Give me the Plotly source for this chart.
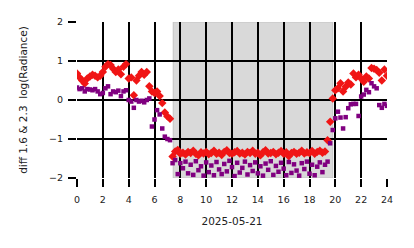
import plotly.graph_objects as go

hours = [0.0, 0.2, 0.4, 0.6, 0.8, 1.0, 1.2, 1.4, 1.6, 1.8,
         2.0, 2.2, 2.4, 2.6, 2.8, 3.0, 3.2, 3.4, 3.6, 3.8,
         4.0, 4.2, 4.4, 4.6, 4.8, 5.0, 5.2, 5.4, 5.6, 5.8,
         6.0, 6.2, 6.4, 6.6, 6.8, 7.0, 7.2, 7.4, 7.6, 7.8,
         8.0, 8.2, 8.4, 8.6, 8.8, 9.0, 9.2, 9.4, 9.6, 9.8,
         10.0, 10.2, 10.4, 10.6, 10.8, 11.0, 11.2, 11.4, 11.6, 11.8,
         12.0, 12.2, 12.4, 12.6, 12.8, 13.0, 13.2, 13.4, 13.6, 13.8,
         14.0, 14.2, 14.4, 14.6, 14.8, 15.0, 15.2, 15.4, 15.6, 15.8,
         16.0, 16.2, 16.4, 16.6, 16.8, 17.0, 17.2, 17.4, 17.6, 17.8,
         18.0, 18.2, 18.4, 18.6, 18.8, 19.0, 19.2, 19.4, 19.6, 19.8,
         20.0, 20.2, 20.4, 20.6, 20.8, 21.0, 21.2, 21.4, 21.6, 21.8,
         22.0, 22.2, 22.4, 22.6, 22.8, 23.0, 23.2, 23.4, 23.6, 23.8, 24.0]

diff_red = [0.68, 0.58, 0.50, 0.42, 0.55, 0.60, 0.65, 0.62, 0.58, 0.62,
            0.72, 0.85, 0.92, 0.90, 0.80, 0.72, 0.78, 0.66, 0.85, 0.92,
            0.55, 0.58, 0.12, 0.50, 0.62, 0.72, 0.65, 0.72, 0.35, 0.22,
            0.18, 0.22, 0.10, -0.08, -0.32, -0.42, -0.48, -1.45, -1.32, -1.28,
            -1.38, -1.35, -1.40, -1.33, -1.36, -1.30, -1.38, -1.42, -1.34, -1.37,
            -1.33, -1.39, -1.36, -1.30, -1.38, -1.35, -1.41, -1.33, -1.29, -1.36,
            -1.38, -1.34, -1.31, -1.37, -1.35, -1.40, -1.33, -1.36, -1.30, -1.38,
            -1.35, -1.42, -1.34, -1.29, -1.37, -1.36, -1.33, -1.39, -1.35, -1.31,
            -1.38, -1.34, -1.44, -1.36, -1.33, -1.38, -1.35, -1.30, -1.37, -1.34,
            -1.36, -1.31, -1.38, -1.33, -1.30, -1.35, -1.32, -1.03, -0.56, 0.04,
            0.25, 0.30, 0.43, 0.22, 0.34, 0.45, 0.40, 0.68, 0.58, 0.65,
            0.55, 0.47, 0.60, 0.55, 0.82, 0.80, 0.77, 0.70, 0.50, 0.78, 0.62]

diff_purple = [0.32, 0.28, 0.30, 0.22, 0.28, 0.27, 0.25, 0.28, 0.22, 0.15,
               0.18, 0.30, 0.35, 0.15, 0.22, 0.20, 0.24, 0.10, 0.22, 0.25,
               0.00, -0.04, -0.20, 0.00, -0.04, -0.02, -0.06, 0.00, 0.04, -0.68,
               -0.50, -0.26, -0.37, -0.73, -0.94, -1.00, -1.03, -1.62, -1.54, -1.90,
               -1.62, -1.75, -1.58, -1.88, -1.66, -1.92, -1.57, -1.80, -1.70, -1.94,
               -1.60, -1.85, -1.68, -1.93, -1.59, -1.78, -1.90, -1.64, -1.83, -1.56,
               -1.72, -1.95, -1.61, -1.86, -1.74, -1.58, -1.91, -1.67, -1.82, -1.60,
               -1.88, -1.70, -1.94, -1.63, -1.79, -1.57, -1.92, -1.69, -1.84, -1.61,
               -1.76, -1.93, -1.59, -1.87, -1.65, -1.81, -1.94, -1.62, -1.77, -1.58,
               -1.89, -1.66, -1.93, -1.71, -1.60, -1.85, -1.66, -1.58, -1.11, -0.77,
               -0.47, -0.30, -0.45, -0.73, -0.44, -0.21, -0.11, -0.10, -0.10, -0.41,
               0.09, 0.14, 0.26, 0.20, 0.43, 0.35, 0.30, -0.13, -0.20, -0.10, -0.15]

night_start = 7.45
night_end = 19.8

x_ticks = [0, 2, 4, 6, 8, 10, 12, 14, 16, 18, 20, 22, 24]
y_ticks = [-2, -1, 0, 1, 2]

fig = go.Figure()
fig.add_trace(go.Scatter(x=hours, y=diff_red, mode="markers",
                         marker=dict(symbol="diamond", size=6.5, color="#f01515",
                                     line=dict(width=0)),
                         showlegend=False))
fig.add_trace(go.Scatter(x=hours, y=diff_purple, mode="markers",
                         marker=dict(symbol="square", size=4.5, color="#800080",
                                     line=dict(width=0)),
                         showlegend=False))

fig.add_shape(type="rect", xref="x", yref="y", x0=night_start, x1=night_end,
              y0=-2, y1=2, fillcolor="#d9d9d9",
              line=dict(color="#c4c4c4", width=1), layer="below")

axis_common = dict(showgrid=True, gridcolor="black", gridwidth=2,
                   ticks="outside", ticklen=8, tickwidth=2, tickcolor="black",
                   zeroline=False, showline=False,
                   tickfont=dict(family="DejaVu Sans", size=9.5, color="#222"))

fig.update_xaxes(range=[0, 24], tickvals=x_ticks, ticklabelstandoff=5,
                 title=dict(text="2025-05-21", standoff=13,
                            font=dict(family="DejaVu Sans", size=10.5, color="#222")),
                 **axis_common)
fig.update_yaxes(range=[-2, 2], tickvals=y_ticks, ticklabelstandoff=3,
                 title=dict(text="diff 1.6 &amp; 2.3\u00a0\u00a0log(Radiance)", standoff=19,
                            font=dict(family="DejaVu Sans", size=10.5, color="#222")),
                 **axis_common)

fig.update_layout(width=414, height=248, margin=dict(l=77, r=27, t=22, b=70),
                  plot_bgcolor="white", paper_bgcolor="white",
                  font=dict(family="DejaVu Sans", size=10))

fig.write_html("out.html")
